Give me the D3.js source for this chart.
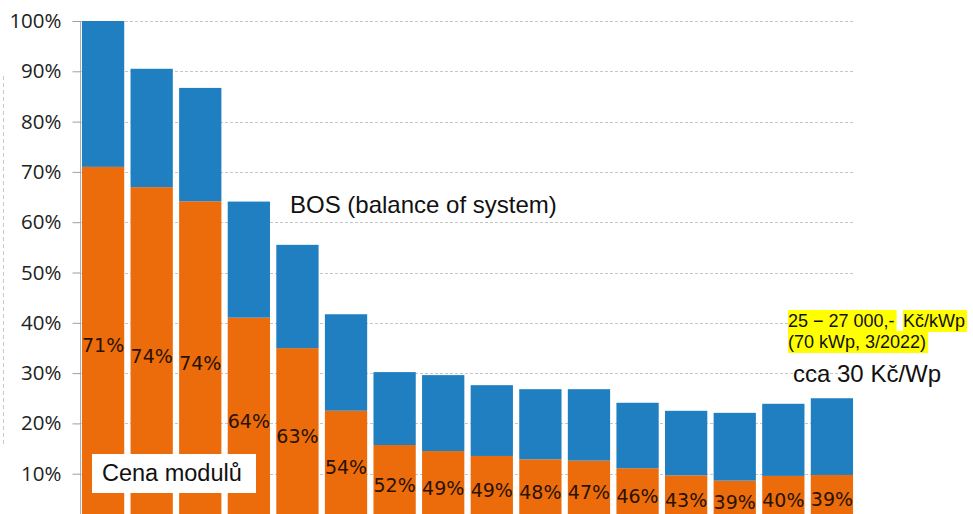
<!DOCTYPE html>
<html>
<head>
<meta charset="utf-8">
<script src="https://cdn.jsdelivr.net/npm/d3@7/dist/d3.min.js"></script>
<style>
  html, body { margin: 0; padding: 0; background: #fff; }
  svg { display: block; }
</style>
</head>
<body>
<svg id="chart" width="973" height="514"></svg>
<script>
// Periods along the x axis (labels fall below the visible area)
const periods = ["1", "2", "3", "4", "5", "6", "7", "8", "9", "10", "11", "12", "13", "14", "15", "16"];
// Total system price, relative to the first period (%)
const totalPrice = [100, 90.5, 86.7, 64.1, 55.5, 41.7, 30.2, 29.6, 27.6, 26.8, 26.8, 24.1, 22.5, 22.1, 23.9, 25.0];
// Share of the module price in the total (%)
const moduleShare = [71, 74, 74, 64, 63, 54, 52, 49, 49, 48, 47, 46, 43, 39, 40, 39];
// Y axis ticks
const yTicks = [10, 20, 30, 40, 50, 60, 70, 80, 90, 100];

const colors = { module: "#ec6c0b", bos: "#1f7fc1" };

const rows = periods.map((p, i) => {
  const total = totalPrice[i];
  const module = total * moduleShare[i] / 100;
  return { period: p, total, module, share: moduleShare[i] };
});

const svg = d3.select("#chart");
const left = 80, right = 855;

const x = d3.scaleBand()
  .domain(periods)
  .range([left, right])
  .paddingInner(0.13)
  .paddingOuter(0.04);

const y = d3.scaleLinear().domain([0, 100]).range([524, 21]);

// faint dashed guide at the far left edge
svg.append("line")
  .attr("x1", 3.5).attr("x2", 3.5)
  .attr("y1", 76).attr("y2", 445)
  .attr("stroke", "#c8c8c8")
  .attr("stroke-dasharray", "4,3");

// dotted horizontal grid
svg.append("g")
  .selectAll("line")
  .data(yTicks)
  .join("line")
  .attr("x1", left).attr("x2", right)
  .attr("y1", d => Math.round(y(d)) + 0.5)
  .attr("y2", d => Math.round(y(d)) + 0.5)
  .attr("stroke", "#c6c6c6")
  .attr("stroke-dasharray", "3,2");

// y axis
const yAxis = d3.axisLeft(y)
  .tickValues(yTicks)
  .tickFormat(d => d + "%")
  .tickSize(8)
  .tickPadding(11);

const gAxis = svg.append("g")
  .attr("transform", `translate(${left + 0.5},0)`)
  .call(yAxis);
gAxis.select(".domain").attr("stroke", "#a9b0b6").attr("d", `M0,${y(100)}V514`);
gAxis.selectAll(".tick line").attr("stroke", "#a0a0a0");
gAxis.selectAll(".tick text")
  .attr("fill", "#222")
  .style("font-family", "'Open Sans', sans-serif")
  .style("font-weight", "500")
  .style("font-size", "20.5px");

// stacked bars: module price at the bottom, BOS on top
const bars = svg.append("g");
bars.selectAll("rect.module")
  .data(rows)
  .join("rect")
  .attr("class", "module")
  .attr("x", d => x(d.period))
  .attr("width", x.bandwidth())
  .attr("y", d => y(d.module))
  .attr("height", d => y(0) - y(d.module))
  .attr("fill", colors.module);

bars.selectAll("rect.bos")
  .data(rows)
  .join("rect")
  .attr("class", "bos")
  .attr("x", d => x(d.period))
  .attr("width", x.bandwidth())
  .attr("y", d => y(d.total))
  .attr("height", d => y(d.module) - y(d.total))
  .attr("fill", colors.bos);

// module share labels inside the orange segment
svg.append("g")
  .selectAll("text")
  .data(rows)
  .join("text")
  .attr("x", d => x(d.period) + x.bandwidth() / 2)
  .attr("y", d => y(d.module / 2))
  .attr("text-anchor", "middle")
  .attr("dominant-baseline", "central")
  .attr("fill", "#2a1204")
  .style("font-family", "'DejaVu Sans', sans-serif")
  .style("font-size", "19px")
  .text(d => d.share + "%");

// annotations
const sans = "'Liberation Sans', Arial, sans-serif";

svg.append("text")
  .attr("x", 290).attr("y", 213)
  .attr("fill", "#111")
  .style("font-family", sans)
  .style("font-size", "24px")
  .text("BOS (balance of system)");

svg.append("rect")
  .attr("x", 92).attr("y", 454)
  .attr("width", 164).attr("height", 39)
  .attr("fill", "#fff");
svg.append("text")
  .attr("x", 102).attr("y", 481)
  .attr("fill", "#111")
  .style("font-family", sans)
  .style("font-size", "23.5px")
  .text("Cena modulů");

// highlighted price note
const note = svg.append("g");
const noteParts = [
  { text: "25 − 27 000,-", x: 788, y: 327 },
  { text: "Kč/kWp", x: 903, y: 327 },
  { text: "(70 kWp, 3/2022)", x: 788, y: 348 }
];
noteParts.forEach(p => {
  const bg = note.append("rect").attr("fill", "#ffff00");
  const t = note.append("text")
    .attr("x", p.x).attr("y", p.y)
    .attr("fill", "#111")
    .style("font-family", sans)
    .style("font-size", "18px")
    .text(p.text);
  const w = t.node().getComputedTextLength();
  bg.attr("x", p.x).attr("y", p.y - 17).attr("width", w + 2).attr("height", 22);
});

svg.append("text")
  .attr("x", 793).attr("y", 382)
  .attr("fill", "#111")
  .style("font-family", sans)
  .style("font-size", "24px")
  .text("cca 30 Kč/Wp");
</script>
</body>
</html>
